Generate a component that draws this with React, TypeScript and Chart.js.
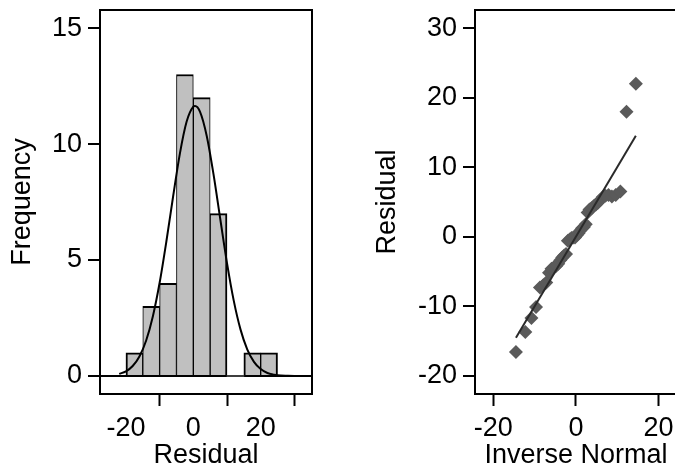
import React, { useEffect, useRef } from "react";
import { Chart, registerables } from "chart.js";

Chart.register(...registerables);

const FONT_FAMILY = "'Liberation Sans', Arial, Helvetica, sans-serif";

// ---------- Histogram of residuals ----------
const binStarts = [-20, -15, -10, -5, 0, 5, 10, 15, 20];
const binWidth = 5;
const binCounts = [1, 3, 4, 13, 12, 7, 0, 1, 1];
const histXTicks = [-20, 0, 20];
const histYTicks = [0, 5, 10, 15];

// normal density overlay
const curveX = [-22, -20, -18, -16, -14, -12, -10, -8, -6, -4, -2, 0, 0.5, 2, 4, 6, 8, 10, 12, 14, 16, 18, 20, 22, 24, 26, 28, 30];
const curveY = [0.09, 0.2, 0.43, 0.84, 1.53, 2.58, 4.02, 5.8, 7.74, 9.58, 10.96, 11.61, 11.64, 11.39, 10.34, 8.69, 6.77, 4.87, 3.25, 2.01, 1.15, 0.61, 0.3, 0.13, 0.06, 0.02, 0.01, 0.0];

// ---------- Normal quantile plot ----------
const inverseNormal = [
  -14.53, -12.26, -10.78, -9.66, -8.72, -7.9, -7.18, -6.52, -5.91, -5.34, -4.79, -4.28, -3.78, -3.3,
  -2.84, -2.39, -1.94, -1.5, -1.07, -0.64, -0.21, 0.21, 0.64, 1.07, 1.5, 1.94, 2.39, 2.84,
  3.3, 3.78, 4.28, 4.79, 5.34, 5.91, 6.52, 7.18, 7.9, 8.72, 9.66, 10.78, 12.26, 14.53,
];
const residualSorted = [
  -16.6, -13.7, -11.7, -10.1, -7.3, -7.0, -6.6, -5.2, -4.6, -4.4, -4.2, -3.9, -3.4, -3.0,
  -2.7, -2.5, -0.6, -0.4, -0.2, -0.1, -0.1, 0.2, 0.5, 0.9, 1.2, 1.4, 1.8, 3.5,
  3.9, 4.1, 4.4, 4.6, 4.9, 5.3, 5.7, 5.9, 6.0, 5.8, 6.0, 6.5, 18.0, 22.0,
];
const refLineX = [-14.53, 14.53];
const refLineY = [-14.53, 14.53];
const qqXTicks = [-20, 0, 20];
const qqYTicks = [-20, -10, 0, 10, 20, 30];

const font = { family: FONT_FAMILY, size: 27 };

const framePlugin = {
  id: "frame",
  afterDraw(chart: any) {
    const { ctx, chartArea } = chart;
    const { left, top, right, bottom } = chartArea;
    ctx.save();
    ctx.strokeStyle = "#000";
    ctx.lineWidth = 2;
    ctx.strokeRect(left, top, right - left, bottom - top);
    ctx.restore();
  },
};

function xAxis(min: number, max: number, ticks: number[], title: string, height: number) {
  return {
    type: "linear",
    position: "bottom",
    min,
    max,
    offset: false,
    afterBuildTicks: (s: any) => {
      s.ticks = ticks.map((v) => ({ value: v }));
    },
    afterFit: (s: any) => {
      s.height = height;
      s.paddingLeft = 0;
      s.paddingRight = 0;
    },
    ticks: { font, color: "#000", padding: 6, maxRotation: 0, autoSkip: false },
    grid: { drawOnChartArea: false, tickLength: 12, tickColor: "#000", tickWidth: 2 },
    border: { display: false },
    title: { display: true, text: title, font, color: "#000", padding: { top: 0, bottom: 0 } },
  };
}

function yAxis(min: number, max: number, ticks: number[], title: string, width: number, titlePad: number, zeroLine: boolean) {
  return {
    type: "linear",
    position: "left",
    min,
    max,
    afterBuildTicks: (s: any) => {
      s.ticks = ticks.map((v) => ({ value: v }));
    },
    afterFit: (s: any) => {
      s.width = width;
      s.paddingTop = 0;
      s.paddingBottom = 0;
    },
    ticks: { font, color: "#000", padding: 6 },
    grid: {
      drawOnChartArea: zeroLine,
      color: (c: any) => (zeroLine && c.tick && c.tick.value === 0 ? "#000" : "rgba(0,0,0,0)"),
      lineWidth: 2,
      tickLength: 12,
      tickColor: "#000",
      tickWidth: 2,
    },
    border: { display: false },
    title: { display: true, text: title, font, color: "#000", padding: { top: titlePad, bottom: 0 } },
  };
}

function barBorder(ctx: any) {
  const i = ctx.dataIndex;
  if (binCounts[i] === 0) return 0;
  const prevEmpty = i === 0 || binCounts[i - 1] === 0;
  const nextEmpty = i === binCounts.length - 1 || binCounts[i + 1] === 0;
  return { top: 2, bottom: 0, left: prevEmpty ? 2 : 1, right: nextEmpty ? 2 : 1 };
}

export default function App() {
  const leftRef = useRef<HTMLCanvasElement | null>(null);
  const rightRef = useRef<HTMLCanvasElement | null>(null);

  useEffect(() => {
    const left = new Chart(leftRef.current as HTMLCanvasElement, {
      type: "bar",
      data: {
        datasets: [
          {
            type: "line",
            data: curveX.map((x, i) => ({ x, y: curveY[i] })),
            borderColor: "#000",
            borderWidth: 2,
            pointRadius: 0,
            cubicInterpolationMode: "monotone",
            order: 0,
          } as any,
          {
            type: "bar",
            data: binStarts.map((s, i) => ({ x: s + binWidth / 2, y: binCounts[i] })),
            backgroundColor: "#c0c0c0",
            borderColor: "#000",
            borderWidth: barBorder,
            borderSkipped: false,
            barPercentage: 1,
            categoryPercentage: 1,
            order: 1,
          } as any,
        ],
      },
      options: {
        responsive: false,
        animation: false,
        devicePixelRatio: 1,
        layout: { padding: { top: 10, right: 25, bottom: 0, left: 0 } },
        plugins: { legend: { display: false }, tooltip: { enabled: false } },
        scales: {
          x: xAxis(-27.7, 35.23, histXTicks, "Residual", 78) as any,
          y: yAxis(-0.776, 15.78, histYTicks, "Frequency", 100, 6, true) as any,
        },
      },
      plugins: [framePlugin],
    });

    const right = new Chart(rightRef.current as HTMLCanvasElement, {
      type: "scatter",
      data: {
        datasets: [
          {
            type: "line",
            data: refLineX.map((x, i) => ({ x, y: refLineY[i] })),
            borderColor: "#2a2a2a",
            borderWidth: 2,
            pointRadius: 0,
            order: 0,
          } as any,
          {
            type: "scatter",
            data: inverseNormal.map((x, i) => ({ x, y: residualSorted[i] })),
            pointStyle: "rectRot",
            pointRadius: 7,
            backgroundColor: "#5a5a5a",
            borderWidth: 0,
            order: 1,
          } as any,
        ],
      },
      options: {
        responsive: false,
        animation: false,
        devicePixelRatio: 1,
        layout: { padding: { top: 10, right: 13, bottom: 0, left: 0 } },
        plugins: { legend: { display: false }, tooltip: { enabled: false } },
        scales: {
          x: xAxis(-24.45, 24.5, qqXTicks, "Inverse Normal", 78) as any,
          y: yAxis(-22.64, 32.63, qqYTicks, "Residual", 138, 34, false) as any,
        },
      },
      plugins: [framePlugin],
    });

    return () => {
      left.destroy();
      right.destroy();
    };
  }, []);

  return (
    <div
      style={{
        position: "fixed",
        left: 0,
        top: 0,
        width: 675,
        height: 472,
        overflow: "hidden",
        background: "#fff",
      }}
    >
      <canvas ref={leftRef} width={337} height={472} style={{ position: "absolute", left: 0, top: 0 }} />
      <canvas ref={rightRef} width={353} height={472} style={{ position: "absolute", left: 337, top: 0 }} />
    </div>
  );
}
